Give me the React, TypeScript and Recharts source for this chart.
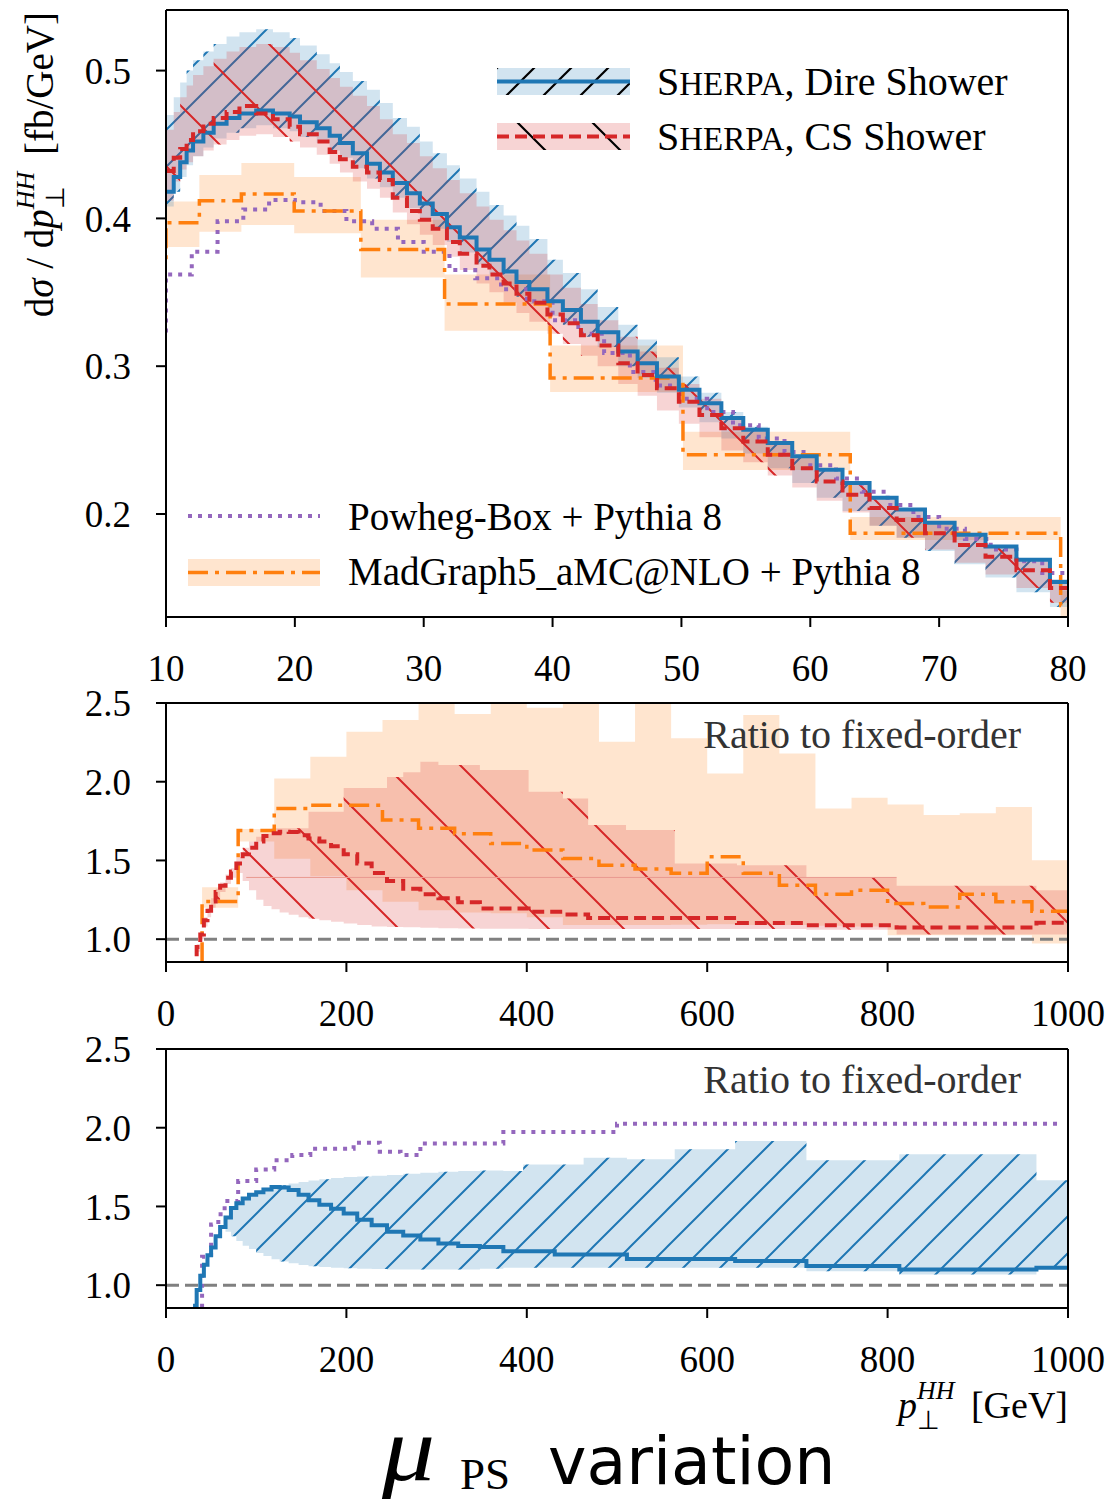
import React from 'react';
import { ComposedChart, Line, Area, XAxis, YAxis, ReferenceLine } from 'recharts';

// ---------- top panel: dσ/dpT(HH), 10-80 GeV ----------
const topEdges = [10, 10.6, 11.1, 11.6, 12.1, 12.9, 13.7, 14.7, 15.7, 17.0, 18.3, 19.6, 20.4, 21.7, 22.7, 23.5, 24.5, 25.6, 26.6, 27.6, 28.7, 29.7, 30.7, 31.8, 32.8, 34.1, 35.1, 36.2, 37.2, 38.2, 39.6, 40.8, 42.2, 43.5, 45.1, 46.6, 48.1, 49.8, 51.4, 53.1, 54.8, 56.7, 58.6, 60.5, 62.5, 64.6, 66.7, 68.9, 71.2, 73.6, 76.0, 78.6, 80];
const direMid = [0.418, 0.428, 0.438, 0.446, 0.452, 0.458, 0.464, 0.468, 0.471, 0.473, 0.471, 0.469, 0.465, 0.461, 0.456, 0.451, 0.444, 0.437, 0.431, 0.424, 0.417, 0.410, 0.403, 0.394, 0.387, 0.379, 0.372, 0.364, 0.357, 0.352, 0.344, 0.338, 0.330, 0.323, 0.310, 0.302, 0.293, 0.284, 0.275, 0.265, 0.257, 0.248, 0.239, 0.230, 0.221, 0.211, 0.203, 0.194, 0.186, 0.178, 0.169, 0.154];
const direHi = [0.470, 0.482, 0.492, 0.500, 0.507, 0.513, 0.518, 0.523, 0.526, 0.528, 0.526, 0.522, 0.517, 0.511, 0.505, 0.499, 0.493, 0.487, 0.478, 0.468, 0.462, 0.452, 0.444, 0.436, 0.427, 0.418, 0.409, 0.402, 0.395, 0.386, 0.372, 0.363, 0.352, 0.340, 0.328, 0.318, 0.306, 0.293, 0.282, 0.269, 0.259, 0.249, 0.240, 0.231, 0.222, 0.212, 0.204, 0.195, 0.187, 0.179, 0.170, 0.156];
const direLo = [0.408, 0.418, 0.428, 0.436, 0.442, 0.448, 0.454, 0.458, 0.461, 0.463, 0.461, 0.459, 0.455, 0.451, 0.446, 0.441, 0.434, 0.427, 0.421, 0.414, 0.407, 0.400, 0.393, 0.384, 0.377, 0.369, 0.362, 0.354, 0.347, 0.342, 0.334, 0.328, 0.320, 0.313, 0.300, 0.292, 0.282, 0.272, 0.262, 0.251, 0.241, 0.231, 0.221, 0.211, 0.202, 0.192, 0.184, 0.175, 0.166, 0.157, 0.147, 0.137];
const csMid = [0.432, 0.441, 0.447, 0.453, 0.459, 0.464, 0.468, 0.472, 0.476, 0.471, 0.467, 0.462, 0.457, 0.452, 0.445, 0.440, 0.435, 0.431, 0.426, 0.414, 0.405, 0.399, 0.393, 0.384, 0.376, 0.368, 0.362, 0.356, 0.349, 0.343, 0.335, 0.329, 0.321, 0.314, 0.302, 0.294, 0.285, 0.276, 0.267, 0.258, 0.249, 0.240, 0.231, 0.222, 0.213, 0.204, 0.196, 0.187, 0.179, 0.171, 0.162, 0.150];
const csHi = [0.460, 0.472, 0.482, 0.490, 0.497, 0.503, 0.508, 0.513, 0.516, 0.518, 0.516, 0.512, 0.507, 0.501, 0.495, 0.489, 0.483, 0.476, 0.467, 0.457, 0.451, 0.442, 0.434, 0.426, 0.417, 0.408, 0.399, 0.392, 0.385, 0.376, 0.362, 0.353, 0.342, 0.331, 0.320, 0.310, 0.299, 0.288, 0.278, 0.266, 0.257, 0.247, 0.238, 0.229, 0.220, 0.210, 0.202, 0.193, 0.185, 0.177, 0.168, 0.155];
const csLo = [0.412, 0.425, 0.433, 0.438, 0.442, 0.446, 0.450, 0.453, 0.456, 0.457, 0.455, 0.452, 0.448, 0.443, 0.437, 0.431, 0.425, 0.420, 0.414, 0.404, 0.396, 0.389, 0.382, 0.374, 0.365, 0.356, 0.350, 0.343, 0.336, 0.330, 0.322, 0.315, 0.307, 0.300, 0.288, 0.280, 0.270, 0.261, 0.252, 0.243, 0.235, 0.226, 0.218, 0.209, 0.201, 0.192, 0.184, 0.176, 0.167, 0.159, 0.150, 0.140];
const powhegEdges = [8, 10, 12, 14, 16, 18, 20, 22, 24, 26, 28, 30, 32, 34, 36, 38, 40, 42, 44, 46, 48, 50, 52, 54, 56, 58, 60, 62, 64, 66, 68, 70, 72, 74, 76, 78, 80];
const powhegVals = [0.32, 0.362, 0.3775, 0.398, 0.406, 0.4125, 0.411, 0.405, 0.398, 0.393, 0.384, 0.3775, 0.365, 0.3595, 0.352, 0.344, 0.331, 0.322, 0.309, 0.296, 0.287, 0.278, 0.269, 0.260, 0.251, 0.242, 0.233, 0.224, 0.215, 0.206, 0.198, 0.190, 0.183, 0.176, 0.168, 0.160];
const mg5Edges = [7.94, 10, 12.59, 15.85, 19.95, 25.12, 31.62, 39.81, 50.12, 63.1, 79.43, 100];
const mg5Mid = [0.372, 0.397, 0.412, 0.4165, 0.405, 0.379, 0.342, 0.292, 0.240, 0.187, 0.138];
const mg5Lo = [0.350, 0.3806, 0.391, 0.3956, 0.390, 0.360, 0.324, 0.2825, 0.2298, 0.1824, 0.128];
const mg5Hi = [0.390, 0.4114, 0.4294, 0.4374, 0.428, 0.399, 0.362, 0.314, 0.2557, 0.198, 0.148];

// ---------- middle panel: CS shower and MG5 ratio to fixed order ----------
const csRatioEdges = [30, 34, 38, 42, 46, 50, 55, 60, 66, 72, 78, 85, 92, 100, 108, 117, 126, 136, 147, 158, 170, 183, 197, 212, 228, 245, 263, 282, 302, 324, 348, 402, 440, 468, 510, 564, 633, 710, 810, 965, 1000];
const csRatioMid = [0.80, 0.95, 1.03, 1.12, 1.18, 1.24, 1.30, 1.34, 1.39, 1.43, 1.48, 1.54, 1.58, 1.62, 1.655, 1.672, 1.682, 1.68, 1.66, 1.64, 1.62, 1.59, 1.54, 1.48, 1.42, 1.37, 1.32, 1.285, 1.26, 1.235, 1.195, 1.174, 1.157, 1.135, 1.135, 1.135, 1.102, 1.089, 1.074, 1.104];
const csRatioLo = [0.78, 0.92, 1.00, 1.08, 1.14, 1.20, 1.25, 1.30, 1.35, 1.39, 1.42, 1.37, 1.31, 1.25, 1.21, 1.19, 1.17, 1.155, 1.14, 1.13, 1.12, 1.11, 1.10, 1.09, 1.08, 1.078, 1.075, 1.072, 1.07, 1.068, 1.066, 1.065, 1.065, 1.065, 1.065, 1.065, 1.065, 1.06, 1.03, 1.03];
const csRatioHi = [0.82, 0.97, 1.05, 1.14, 1.20, 1.26, 1.32, 1.36, 1.41, 1.45, 1.52, 1.58, 1.62, 1.65, 1.67, 1.705, 1.705, 1.705, 1.705, 1.81, 1.81, 1.81, 1.96, 1.96, 1.96, 2.03, 2.06, 2.127, 2.106, 2.106, 2.074, 1.936, 1.894, 1.725, 1.693, 1.481, 1.47, 1.39, 1.339, 1.31];
const mg5RatioEdges = [0, 40, 80, 120, 160, 200, 240, 280, 320, 360, 400, 440, 480, 520, 560, 600, 640, 680, 720, 760, 800, 840, 880, 920, 960, 1000];
const mg5RatioMid = [0.60, 1.24, 1.69, 1.83, 1.85, 1.85, 1.757, 1.704, 1.67, 1.608, 1.566, 1.513, 1.47, 1.445, 1.418, 1.523, 1.418, 1.343, 1.286, 1.311, 1.227, 1.205, 1.286, 1.237, 1.178];
const mg5RatioLo = [0.55, 1.20, 1.62, 1.51, 1.40, 1.31, 1.237, 1.184, 1.17, 1.165, 1.14, 1.09, 1.09, 1.09, 1.092, 1.095, 1.09, 1.09, 1.085, 1.08, 1.025, 1.025, 1.025, 1.025, 0.973];
const mg5RatioHi = [0.65, 1.33, 1.70, 2.02, 2.159, 2.318, 2.392, 2.55, 2.43, 2.55, 2.47, 2.55, 2.254, 2.55, 2.276, 2.053, 2.424, 2.18, 1.83, 1.898, 1.856, 1.788, 1.80, 1.84, 1.502];

// ---------- bottom panel: Dire shower and Powheg ratio to fixed order ----------
const direRatioEdges = [30, 34, 38, 42, 46, 50, 55, 60, 66, 72, 78, 85, 92, 100, 108, 117, 126, 136, 147, 158, 170, 183, 197, 212, 228, 245, 263, 282, 302, 324, 348, 374, 396, 431, 463, 511, 564, 631, 710, 813, 965, 1000];
const direRatioMid = [0.87, 0.97, 1.06, 1.13, 1.19, 1.24, 1.31, 1.37, 1.43, 1.49, 1.52, 1.55, 1.575, 1.59, 1.608, 1.623, 1.62, 1.605, 1.575, 1.54, 1.51, 1.485, 1.455, 1.415, 1.38, 1.34, 1.315, 1.29, 1.265, 1.248, 1.242, 1.216, 1.216, 1.195, 1.195, 1.167, 1.167, 1.153, 1.121, 1.10, 1.11];
const direRatioLo = [0.86, 0.96, 1.05, 1.12, 1.18, 1.23, 1.30, 1.36, 1.34, 1.31, 1.28, 1.25, 1.23, 1.205, 1.185, 1.165, 1.15, 1.14, 1.128, 1.12, 1.115, 1.11, 1.108, 1.105, 1.102, 1.10, 1.10, 1.10, 1.10, 1.10, 1.105, 1.11, 1.11, 1.11, 1.11, 1.11, 1.11, 1.11, 1.089, 1.068, 1.105];
const direRatioHi = [0.88, 0.98, 1.07, 1.14, 1.20, 1.25, 1.32, 1.38, 1.44, 1.50, 1.53, 1.56, 1.585, 1.60, 1.618, 1.633, 1.635, 1.645, 1.655, 1.665, 1.672, 1.68, 1.687, 1.69, 1.695, 1.70, 1.708, 1.714, 1.72, 1.725, 1.729, 1.725, 1.767, 1.767, 1.81, 1.80, 1.863, 1.916, 1.793, 1.831, 1.666];
const powhegRatioEdges = [30, 40, 50, 58, 65, 80, 100, 120, 140, 160, 208, 237, 260, 282, 374, 500, 992];
const powhegRatioVals = [0.85, 1.18, 1.386, 1.45, 1.534, 1.661, 1.735, 1.793, 1.826, 1.866, 1.905, 1.848, 1.826, 1.90, 1.973, 2.026];

const topXTicks = [10, 20, 30, 40, 50, 60, 70, 80];
const topYTicks = [0.2, 0.3, 0.4, 0.5];
const ratioXTicks = [0, 200, 400, 600, 800, 1000];
const ratioYTicks = [1.0, 1.5, 2.0, 2.5];

const BLUE = '#1f77b4';
const RED = '#d62728';
const ORANGE = '#ff7f0e';
const PURPLE = '#9467bd';
const SERIF = 'Liberation Serif, serif';

// histogram -> step points (last bin repeated at the right edge)
const hist = (edges: number[], vals: number[]) => {
  const pts = vals.map((v, i) => ({ x: edges[i], y: v }));
  pts.push({ x: edges[edges.length - 1], y: vals[vals.length - 1] });
  return pts;
};
const band = (edges: number[], lo: number[], hi: number[]) => {
  const pts = lo.map((l, i) => ({ x: edges[i], r: [l, hi[i]] }));
  pts.push({ x: edges[edges.length - 1], r: [lo[lo.length - 1], hi[hi.length - 1]] });
  return pts;
};

const axisLine = { stroke: '#000', strokeWidth: 2 };
const tickStyle = { fontFamily: SERIF, fontSize: 37, fill: '#000' };
const fmt1 = (v: number) => v.toFixed(1);

const Patterns = () => (
  <svg width={0} height={0} style={{ position: 'absolute' }}>
    <defs>
      <pattern id="hBlue" patternUnits="userSpaceOnUse" width={37} height={37}>
        <path d="M-4,4 L4,-4 M0,37 L37,0 M33,41 L41,33" stroke={BLUE} strokeWidth={2} />
      </pattern>
      <pattern id="hRed" patternUnits="userSpaceOnUse" width={75} height={75}>
        <path d="M-4,71 L4,79 M0,0 L75,75 M71,-4 L79,4" stroke={RED} strokeWidth={2} />
      </pattern>
      <pattern id="lgSlash" patternUnits="userSpaceOnUse" width={37} height={37} x={10}>
        <path d="M-4,4 L4,-4 M0,37 L37,0 M33,41 L41,33" stroke="#000" strokeWidth={2.2} />
      </pattern>
      <pattern id="lgBack" patternUnits="userSpaceOnUse" width={75} height={75} x={20}>
        <path d="M-4,71 L4,79 M0,0 L75,75 M71,-4 L79,4" stroke="#000" strokeWidth={2.2} />
      </pattern>
    </defs>
  </svg>
);

const bandArea = (key: string, data: any[], color: string) => (
  <Area key={key} data={data} dataKey="r" type="stepAfter" stroke="none" fill={color} fillOpacity={0.2} isAnimationActive={false} />
);
const hatchArea = (key: string, data: any[], pat: string) => (
  <Area key={key} data={data} dataKey="r" type="stepAfter" stroke="none" fill={`url(#${pat})`} fillOpacity={1} isAnimationActive={false} />
);

const TopPanel = () => (
  <ComposedChart width={1108} height={695} margin={{ top: 10, right: 40, bottom: 0, left: 66 }}>
    <XAxis dataKey="x" type="number" domain={[10, 80]} allowDataOverflow ticks={topXTicks} interval={0}
      height={78} axisLine={axisLine} tickLine={axisLine} tickSize={10} tickMargin={28} tick={tickStyle} />
    <YAxis type="number" domain={[0.1303, 0.541]} allowDataOverflow ticks={topYTicks} interval={0} tickFormatter={fmt1}
      width={100} axisLine={axisLine} tickLine={axisLine} tickSize={10} tickMargin={25} tick={tickStyle} />
    {bandArea('mgb', band(mg5Edges, mg5Lo, mg5Hi), ORANGE)}
    {bandArea('db', band(topEdges, direLo, direHi), BLUE)}
    {hatchArea('dh', band(topEdges, direLo, direHi), 'hBlue')}
    {bandArea('cb', band(topEdges, csLo, csHi), RED)}
    {hatchArea('ch', band(topEdges, csLo, csHi), 'hRed')}
    <Line data={hist(powhegEdges, powhegVals)} dataKey="y" type="stepAfter" stroke={PURPLE} strokeWidth={4} strokeDasharray="4 6" dot={false} isAnimationActive={false} />
    <Line data={hist(mg5Edges, mg5Mid)} dataKey="y" type="stepAfter" stroke={ORANGE} strokeWidth={3.5} strokeDasharray="20 7 4 7" dot={false} isAnimationActive={false} />
    <Line data={hist(topEdges, direMid)} dataKey="y" type="stepAfter" stroke={BLUE} strokeWidth={4} dot={false} isAnimationActive={false} />
    <Line data={hist(topEdges, csMid)} dataKey="y" type="stepAfter" stroke={RED} strokeWidth={4} strokeDasharray="12 6" dot={false} isAnimationActive={false} />
    <ReferenceLine y={0.541} stroke="#000" strokeWidth={2} />
    <ReferenceLine x={80} stroke="#000" strokeWidth={2} />
  </ComposedChart>
);

const MiddlePanel = () => (
  <ComposedChart width={1108} height={362} margin={{ top: 23, right: 40, bottom: 0, left: 66 }}>
    <XAxis dataKey="x" type="number" domain={[0, 1000]} allowDataOverflow ticks={ratioXTicks} interval={0}
      height={80} axisLine={axisLine} tickLine={axisLine} tickSize={10} tickMargin={28} tick={tickStyle} />
    <YAxis type="number" domain={[0.855, 2.5]} allowDataOverflow ticks={ratioYTicks} interval={0} tickFormatter={fmt1}
      width={100} axisLine={axisLine} tickLine={axisLine} tickSize={10} tickMargin={25} tick={tickStyle} />
    {bandArea('mrb', band(mg5RatioEdges, mg5RatioLo, mg5RatioHi), ORANGE)}
    {bandArea('crb', band(csRatioEdges, csRatioLo, csRatioHi), RED)}
    {hatchArea('crh', band(csRatioEdges, csRatioLo, csRatioHi), 'hRed')}
    <ReferenceLine segment={[{ x: 89, y: 1.392 }, { x: 810, y: 1.392 }]} stroke="#e99a90" strokeWidth={1} />
    <ReferenceLine y={1} stroke="#808080" strokeWidth={3} strokeDasharray="13 6" />
    <Line data={hist(mg5RatioEdges, mg5RatioMid)} dataKey="y" type="stepAfter" stroke={ORANGE} strokeWidth={3.5} strokeDasharray="20 7 4 7" dot={false} isAnimationActive={false} />
    <Line data={hist(csRatioEdges, csRatioMid)} dataKey="y" type="stepAfter" stroke={RED} strokeWidth={4} strokeDasharray="12 6" dot={false} isAnimationActive={false} />
    <ReferenceLine y={2.5} stroke="#000" strokeWidth={2} />
    <ReferenceLine x={1000} stroke="#000" strokeWidth={2} />
  </ComposedChart>
);

const BottomPanel = () => (
  <ComposedChart width={1108} height={362} margin={{ top: 23, right: 40, bottom: 0, left: 66 }}>
    <XAxis dataKey="x" type="number" domain={[0, 1000]} allowDataOverflow ticks={ratioXTicks} interval={0}
      height={80} axisLine={axisLine} tickLine={axisLine} tickSize={10} tickMargin={28} tick={tickStyle} />
    <YAxis type="number" domain={[0.855, 2.5]} allowDataOverflow ticks={ratioYTicks} interval={0} tickFormatter={fmt1}
      width={100} axisLine={axisLine} tickLine={axisLine} tickSize={10} tickMargin={25} tick={tickStyle} />
    {bandArea('drb', band(direRatioEdges, direRatioLo, direRatioHi), BLUE)}
    {hatchArea('drh', band(direRatioEdges, direRatioLo, direRatioHi), 'hBlue')}
    <ReferenceLine y={1} stroke="#808080" strokeWidth={3} strokeDasharray="13 6" />
    <Line data={hist(powhegRatioEdges, powhegRatioVals)} dataKey="y" type="stepAfter" stroke={PURPLE} strokeWidth={4} strokeDasharray="4 6" dot={false} isAnimationActive={false} />
    <Line data={hist(direRatioEdges, direRatioMid)} dataKey="y" type="stepAfter" stroke={BLUE} strokeWidth={4} dot={false} isAnimationActive={false} />
    <ReferenceLine y={2.5} stroke="#000" strokeWidth={2} />
    <ReferenceLine x={1000} stroke="#000" strokeWidth={2} />
  </ComposedChart>
);

const Sherpa = () => (
  <>
    <tspan>S</tspan><tspan fontSize={33}>HERPA</tspan>
  </>
);

// legends, axis titles and the caption
const Overlay = () => (
  <svg width={1108} height={1500} style={{ position: 'absolute', left: 0, top: 0, pointerEvents: 'none' }}
    fontFamily={SERIF}>
    {/* Sherpa legend */}
    <rect x={497} y={68} width={133} height={27} fill={BLUE} fillOpacity={0.2} />
    <rect x={497} y={68} width={133} height={27} fill="url(#lgSlash)" />
    <line x1={497} x2={630} y1={81.5} y2={81.5} stroke={BLUE} strokeWidth={4} />
    <text x={657} y={95} fontSize={40}><Sherpa />, Dire Shower</text>
    <rect x={497} y={123} width={133} height={27} fill={RED} fillOpacity={0.2} />
    <rect x={497} y={123} width={133} height={27} fill="url(#lgBack)" />
    <line x1={497} x2={630} y1={136.5} y2={136.5} stroke={RED} strokeWidth={4} strokeDasharray="12 6" />
    <text x={657} y={150} fontSize={40}><Sherpa />, CS Shower</text>
    {/* other generators */}
    <line x1={188} x2={320} y1={516} y2={516} stroke={PURPLE} strokeWidth={4} strokeDasharray="4 6" />
    <text x={348} y={530} fontSize={39}>Powheg-Box + Pythia 8</text>
    <rect x={188} y={559} width={132} height={27} fill={ORANGE} fillOpacity={0.2} />
    <line x1={188} x2={320} y1={572.5} y2={572.5} stroke={ORANGE} strokeWidth={3.5} strokeDasharray="20 7 4 7" />
    <text x={348} y={585} fontSize={39}>MadGraph5_aMC@NLO + Pythia 8</text>
    {/* ratio labels */}
    <text x={1021} y={748} fontSize={40} textAnchor="end" fill="#333">Ratio to fixed-order</text>
    <text x={1021} y={1093} fontSize={40} textAnchor="end" fill="#333">Ratio to fixed-order</text>
    {/* y label */}
    <text transform="translate(53,12) rotate(-90)" fontSize={39} textAnchor="end">
      d<tspan fontStyle="italic">σ</tspan> / d<tspan fontStyle="italic">p</tspan>
      <tspan fontSize={26} fontStyle="italic" dy={-19}>HH</tspan>
      <tspan fontSize={26} dx={-37} dy={30}>⊥</tspan>
      <tspan dx={21} dy={-11}> [fb/GeV]</tspan>
    </text>
    {/* x label */}
    <text x={1068} y={1418} fontSize={38} textAnchor="end">
      <tspan fontStyle="italic">p</tspan>
      <tspan fontSize={26} fontStyle="italic" dy={-19}>HH</tspan>
      <tspan fontSize={26} dx={-37} dy={30}>⊥</tspan>
      <tspan dx={21} dy={-11}> [GeV]</tspan>
    </text>
    {/* caption */}
    <text transform="translate(382,1480) scale(1.15,1)" fontSize={92} fontStyle="italic">μ</text>
    <text x={460} y={1489} fontSize={45}>PS</text>
    <text x={548} y={1484} fontSize={65} fontFamily="DejaVu Sans, sans-serif">variation</text>
  </svg>
);

export default function App() {
  return (
    <div style={{ position: 'absolute', left: 0, top: 0, width: 1108, height: 1500, background: '#fff' }}>
      <Patterns />
      <div style={{ position: 'absolute', left: 0, top: 0 }}><TopPanel /></div>
      <div style={{ position: 'absolute', left: 0, top: 680 }}><MiddlePanel /></div>
      <div style={{ position: 'absolute', left: 0, top: 1026 }}><BottomPanel /></div>
      <Overlay />
    </div>
  );
}
